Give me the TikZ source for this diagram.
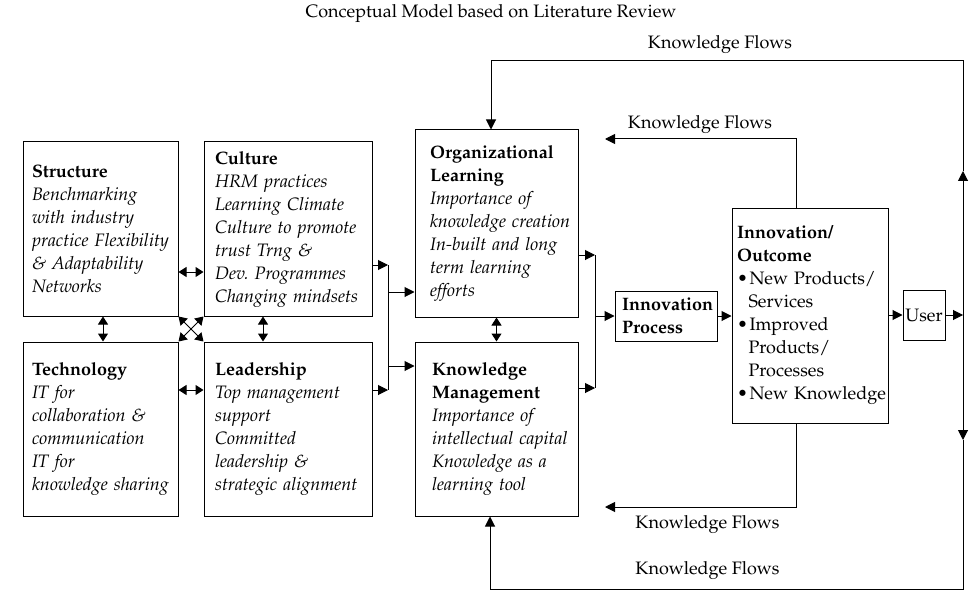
\documentclass[tikz,border=0pt]{standalone}
\usepackage[T1]{fontenc}
\usepackage{mathpazo}
\usetikzlibrary{arrows.meta}
\newcommand{\bul}{\makebox[12.5pt][l]{\textbullet}}
\newcommand{\hang}{\hspace*{11.5pt}}
\begin{document}
\hyphenpenalty=10000
\exhyphenpenalty=10000
\begin{tikzpicture}[x=1pt,y=-1pt,
  every node/.style={font=\fontsize{18}{23}\selectfont},
  box/.style={draw, line width=1pt, align=left, inner ysep=0pt},
  arr/.style={line width=1pt,-{Triangle[length=10pt,width=10pt]}},
  darr/.style={line width=1pt,{Triangle[length=8pt,width=10pt]}-{Triangle[length=8pt,width=10pt]}},
  ln/.style={line width=1pt},
  lbl/.style={inner sep=0pt}]
\useasboundingbox (0,0) rectangle (979,596);

\node[lbl] (title) at (491,14) {Conceptual Model based on Literature Review};

% left boxes
\node[box, inner xsep=9pt, text width=137pt, minimum height=174pt] (structure) at (100.5,229)
  {\textbf{Structure}\\ \itshape Benchmarking\\ with~industry\\ practice~Flexibility\\ \&~Adaptability\\ Networks};
\node[box, inner xsep=11pt, text width=146pt, minimum height=174pt] (culture) at (288,229)
  {\textbf{Culture}\\ \itshape HRM~practices\\ Learning~Climate\\ Culture~to~promote\\ trust~Trng~\&\\ Dev.~Programmes\\ Changing~mindsets};
\node[box, inner xsep=9pt, text width=137pt, minimum height=174pt] (technology) at (100.5,429)
  {\textbf{Technology}\\ \itshape IT~for\\ collaboration~\&\\ communication\\ IT~for\\ knowledge~sharing};
\node[box, inner xsep=11pt, text width=146pt, minimum height=174pt] (leadership) at (288,429)
  {\textbf{Leadership}\\ \itshape Top~management\\ support\\ Committed\\ leadership~\&\\ strategic~alignment};

% middle boxes
\node[box, inner xsep=15pt, text width=133pt, minimum height=187pt] (ol) at (496.5,223.5)
  {\textbf{Organizational}\\ \textbf{Learning}\\ \itshape Importance~of\\ knowledge~creation\\ In-built~and~long\\ term~learning\\ efforts};
\node[box, inner xsep=17pt, text width=129pt, minimum height=174pt] (km) at (496.5,429)
  {\textbf{Knowledge}\\ \textbf{Management}\\ \itshape Importance~of\\ intellectual~capital\\ Knowledge~as~a\\ learning~tool};

% right boxes
\node[box, inner xsep=7pt, text width=88pt, minimum height=50pt] (ip) at (666,316)
  {\textbf{Innovation}\\ \textbf{Process}};
\node[box, inner xsep=5pt, text width=146pt, minimum height=215pt] (outcome) at (810,315.5)
  {\textbf{Innovation/}\\ \textbf{Outcome}\\ \bul New~Products/\\ \hang Services\\ \bul Improved\\ \hang Products/\\ \hang Processes\\ \bul New~Knowledge};
\node[box, align=center, inner xsep=0pt, minimum width=42pt, minimum height=50pt] (user) at (924,315) {User};

% labels
\node[lbl] (kf1) at (720,45) {Knowledge Flows};
\node[lbl] (kf2) at (700,125) {Knowledge Flows};
\node[lbl] (kf3) at (707.5,525) {Knowledge Flows};
\node[lbl] (kf4) at (707.5,571) {Knowledge Flows};

% arrows among left boxes
\draw[darr] (structure.east |- 0,272) -- (culture.west |- 0,272);
\draw[darr] (technology.east |- 0,390) -- (leadership.west |- 0,390);
\draw[darr] ([xshift=2.5pt]structure.south) -- ([xshift=2.5pt]technology.north);
\draw[darr] ([xshift=-25pt]culture.south) -- ([xshift=-25pt]leadership.north);
\draw[darr] (structure.south east) -- (leadership.north west);
\draw[darr] (culture.south west) -- (technology.north east);

% left bus
\coordinate (bl1) at (388,265);
\coordinate (bl2) at (388,390);
\coordinate (blo) at (388,292);
\coordinate (blk) at (388,366);
\draw[arr] (culture.east |- bl1) -- (bl1);
\draw[arr] (leadership.east |- bl2) -- (bl2);
\draw[ln] (bl1) -- (bl2);
\draw[arr] (blo) -- (blo -| ol.west);
\draw[arr] (blk) -- (blk -| km.west);

% OL <-> KM
\draw[darr] (ol.south) -- (km.north);

% right bus
\coordinate (br1) at (595,255);
\coordinate (br2) at (595,388);
\draw[arr] (ol.east |- br1) -- (br1);
\draw[arr] (km.east |- br2) -- (br2);
\draw[ln] (br1) -- (br2);
\draw[arr] (br1 |- ip.west) -- (ip.west);

\draw[arr] (ip.east) -- (ip.east -| outcome.west);
\draw[arr] (outcome.east |- user.west) -- (user.west);

% user to right line
\coordinate (J) at (963,315);
\coordinate (up) at (963,171);
\coordinate (dn) at (963,440);
\coordinate (RT) at (963,61);
\coordinate (RB) at (963,589);
\coordinate (TL) at (491,61);
\coordinate (BL) at (490,589);
\draw[arr] (user.east) -- (J);
\draw[arr] (J) -- (up);
\draw[arr] (dn |- J) -- (dn);
\draw[arr] (up) -- (RT) -- (TL) -- (TL |- ol.north);
\draw[arr] (dn) -- (RB) -- (BL) -- (BL |- km.south);

% inner loops
\coordinate (OT) at (796,139);
\coordinate (OTL) at (605,139);
\coordinate (OB) at (796,507);
\coordinate (OBL) at (605,507);
\draw[arr] (OT |- outcome.north) -- (OT) -- (OTL);
\draw[arr] (OB |- outcome.south) -- (OB) -- (OBL);
\end{tikzpicture}
\end{document}
